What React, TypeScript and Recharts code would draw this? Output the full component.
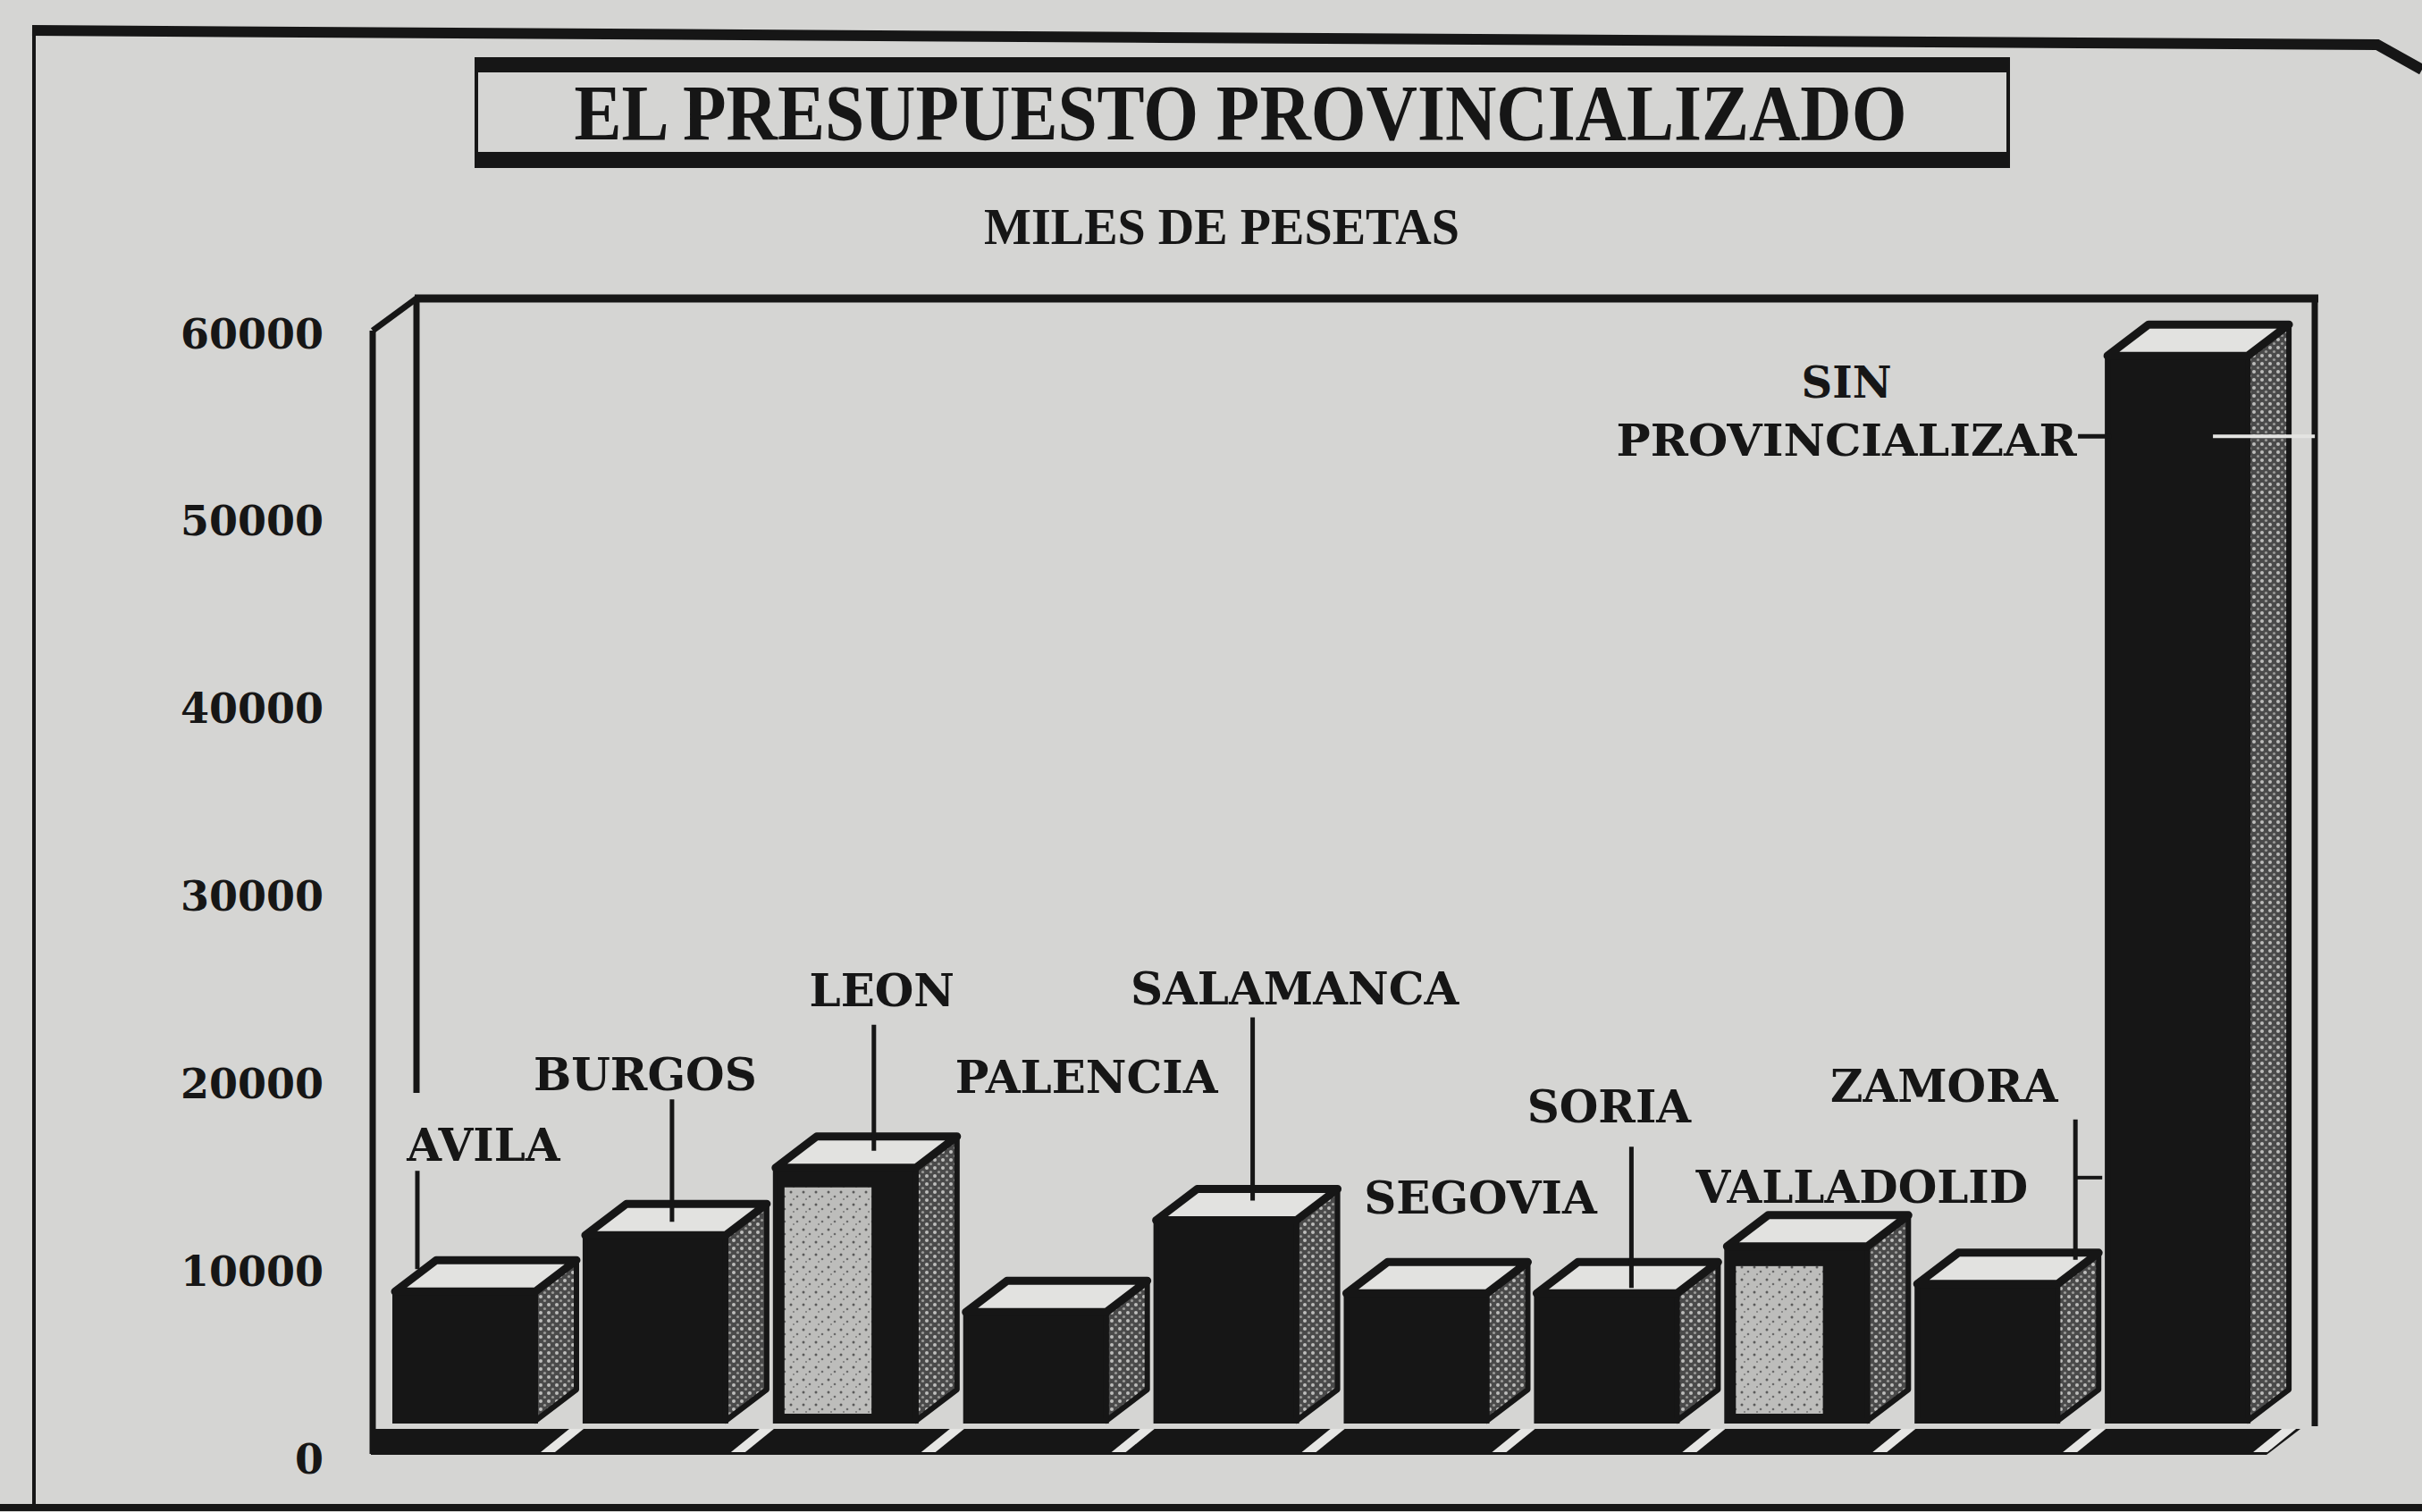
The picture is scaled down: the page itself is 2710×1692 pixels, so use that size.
import React from 'react';
import { BarChart, Bar, XAxis, YAxis, LabelList, Cell } from 'recharts';

const provinces = ['AVILA', 'BURGOS', 'LEON', 'PALENCIA', 'SALAMANCA', 'SEGOVIA', 'SORIA', 'VALLADOLID', 'ZAMORA', 'SIN PROVINCIALIZAR'];
const budget = [6900, 9900, 13500, 5800, 10700, 6800, 6800, 9300, 7300, 56800];
const yTicks = [0, 10000, 20000, 30000, 40000, 50000, 60000];

// which fronts came out light/mottled in print
const lightFront = [false, false, true, false, false, false, false, true, false, false];

// label placement, relative to the front top-left corner of each bar
const labelLayout = [
    { dx: 99, dy: -164, leader: { x: 25, y1: -135, y2: -25 } },
    { dx: 67, dy: -180, leader: { x: 97, y1: -152, y2: -15 } },
    { dx: 119, dy: -199, leader: { x: 110, y1: -160, y2: -19 } },
    { dx: 135, dy: -263 },
    { dx: 155, dy: -259, leader: { x: 108, y1: -227, y2: -22 } },
    { dx: 150, dy: -107 },
    { dx: 81, dy: -209, leader: { x: 106, y1: -164, y2: -6 } },
    { dx: 151, dy: -67 },
    { dx: 30, dy: -222, leader: { x: 177, y1: -184, y2: -27 }, tick: -119 },
    { dx: -292, dy: 30, twoLine: true },
];

const data = provinces.map((name, i) => ({ name, value: budget[i] }));

const PAPER = '#d5d5d3';
const INK = '#161616';
const FONT = '"DejaVu Serif", serif';
const DX = 46;
const DY = 35;

const Bar3D = (props: any) => {
    const { x, y, width, height, index } = props;
    const r = x + width;
    const b = y + height;
    return (
        <g>
            <polygon
                points={`${r},${y} ${r + DX},${y - DY} ${r + DX},${b - DY} ${r},${b}`}
                fill="url(#halftone)"
                stroke={INK}
                strokeWidth={6}
                strokeLinejoin="round"
            />
            <rect x={x} y={y} width={width} height={height} fill={INK} stroke={INK} strokeWidth={6} />
            {lightFront[index] && (
                <rect x={x + 10} y={y + 22} width={width * 0.62} height={height - 30} fill="url(#speckle)" />
            )}
            <polygon
                points={`${x},${y} ${x + DX},${y - DY} ${r + DX},${y - DY} ${r},${y}`}
                fill="#e2e2e0"
                stroke={INK}
                strokeWidth={9}
                strokeLinejoin="round"
            />
            <polygon
                points={`${r + 6},${b + 35} ${r + DX - 8},${b + 9} ${r + DX + 8},${b + 9} ${r + 22},${b + 35}`}
                fill="#e6e6e4"
            />
        </g>
    );
};

const renderLabel = (props: any) => {
    const { x, y, index, value } = props;
    const l = labelLayout[index];
    if (!l) return null;
    const tx = x + l.dx;
    const ty = y + l.dy;
    const words = String(value).split(' ');
    return (
        <g>
            {l.twoLine ? (
                <text x={tx} y={ty} fontFamily={FONT} fontWeight="bold" fontSize={48} fill={INK} textAnchor="middle">
                    <tspan x={tx} dy="0.36em">{words[0]}</tspan>
                    <tspan x={tx} dy="1.35em" textLength={515} lengthAdjust="spacingAndGlyphs">{words.slice(1).join(' ')}</tspan>
                </text>
            ) : (
                <text x={tx} y={ty} dy="0.36em" fontFamily={FONT} fontWeight="bold" fontSize={50} fill={INK} textAnchor="middle">
                    {value}
                </text>
            )}
            {l.leader && (
                <line x1={x + l.leader.x} x2={x + l.leader.x} y1={y + l.leader.y1} y2={y + l.leader.y2} stroke={INK} strokeWidth={5} />
            )}
            {l.tick !== undefined && l.leader && (
                <line x1={x + l.leader.x} x2={x + l.leader.x + 30} y1={y + l.tick} y2={y + l.tick} stroke={INK} strokeWidth={4} />
            )}
            {l.twoLine && (
                <g>
                    <line x1={x - 33} x2={x + 4} y1={y + 90} y2={y + 90} stroke={INK} strokeWidth={5} />
                    <line x1={x + 118} x2={x + 232} y1={y + 90} y2={y + 90} stroke="#e4e4e2" strokeWidth={4} />
                </g>
            )}
        </g>
    );
};

const renderTick = (props: any) => {
    const { x, y, payload } = props;
    return (
        <text x={x} y={y + 42} dy="0.36em" textAnchor="end" fontFamily={FONT} fontWeight="bold" fontSize={46} fill={INK}>
            {payload.value}
        </text>
    );
};

const Backdrop = () => (
    <svg width={2710} height={1692} style={{ position: 'absolute', left: 0, top: 0 }}>
        <defs>
            <pattern id="halftone" width="9" height="9" patternUnits="userSpaceOnUse">
                <rect width="9" height="9" fill="#4a4a4a" />
                <circle cx="2" cy="2" r="2" fill="#bdbdbb" />
                <circle cx="6.5" cy="6.5" r="1.6" fill="#9a9a98" />
            </pattern>
            <pattern id="speckle" width="14" height="14" patternUnits="userSpaceOnUse">
                <rect width="14" height="14" fill="#bdbdbb" />
                <circle cx="3" cy="4" r="1.5" fill="#5a5a5a" />
                <circle cx="10" cy="9" r="1.3" fill="#6a6a6a" />
                <circle cx="6" cy="12" r="1" fill="#777" />
            </pattern>
        </defs>
        {/* outer frame */}
        <polyline points="36,34 1300,42 2660,50 2710,78" fill="none" stroke={INK} strokeWidth={12} />
        <line x1={38} y1={30} x2={38} y2={1686} stroke={INK} strokeWidth={4} />
        <line x1={0} y1={1687} x2={2710} y2={1687} stroke={INK} strokeWidth={8} />

        {/* title box */}
        <rect x={531} y={64} width={1718} height={17} fill={INK} />
        <rect x={531} y={170} width={1718} height={18} fill={INK} />
        <line x1={533} y1={64} x2={533} y2={188} stroke={INK} strokeWidth={4} />
        <line x1={2247} y1={64} x2={2247} y2={188} stroke={INK} strokeWidth={4} />
        <text x={1388} y={156} textAnchor="middle" fontFamily='"Liberation Serif", serif' fontWeight="bold" fontSize={88} fill={INK} textLength={1491} lengthAdjust="spacingAndGlyphs">
            EL PRESUPUESTO PROVINCIALIZADO
        </text>
        <text x={1367} y={273} textAnchor="middle" fontFamily='"Liberation Serif", serif' fontWeight="bold" fontSize={58} fill={INK} textLength={532} lengthAdjust="spacingAndGlyphs">
            MILES DE PESETAS
        </text>

        {/* plot box: left wall, back top, right wall */}
        <line x1={417} y1={370} x2={417} y2={1627} stroke={INK} strokeWidth={7} />
        <line x1={417} y1={370} x2={466} y2={334} stroke={INK} strokeWidth={7} />
        <line x1={466} y1={334} x2={466} y2={1223} stroke={INK} strokeWidth={7} />
        <line x1={464} y1={334} x2={2594} y2={334} stroke={INK} strokeWidth={9} />
        <line x1={2590} y1={330} x2={2590} y2={1596} stroke={INK} strokeWidth={7} />

        {/* floor */}
        <polygon points="415,1599 2574,1599 2536,1628 415,1628" fill={INK} />
    </svg>
);

export default function App() {
    return (
        <div style={{ position: 'fixed', left: 0, top: 0, width: 2710, height: 1692, background: PAPER, overflow: 'hidden' }}>
            <Backdrop />
            <div style={{ position: 'absolute', left: 0, top: 0 }}>
                <BarChart width={2710} height={1692} data={data} margin={{ top: 331, right: 167, bottom: 102, left: 314 }}>
                    <XAxis dataKey="name" hide />
                    <YAxis
                        width={100}
                        domain={[0, 60000]}
                        ticks={yTicks}
                        axisLine={false}
                        tickLine={false}
                        tickSize={0}
                        tickMargin={52}
                        tick={renderTick}
                        interval={0}
                    />
                    <Bar dataKey="value" barSize={157} shape={Bar3D} isAnimationActive={false}>
                        {data.map((d, i) => (
                            <Cell key={`cell-${i}`} fill={INK} />
                        ))}
                        <LabelList dataKey="name" content={renderLabel} />
                    </Bar>
                </BarChart>
            </div>
        </div>
    );
}
